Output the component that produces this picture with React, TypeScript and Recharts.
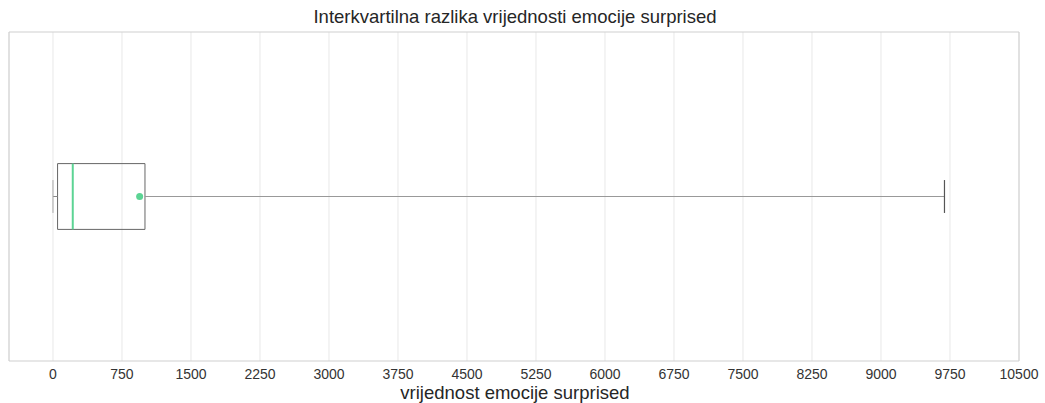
import { ComposedChart, XAxis, YAxis, CartesianGrid, ReferenceArea, ReferenceLine, Scatter } from 'recharts'

const ticks = [0, 750, 1500, 2250, 3000, 3750, 4500, 5250, 6000, 6750, 7500, 8250, 9000, 9750, 10500]
const whiskerLow = 0
const q1 = 50
const median = 215
const q3 = 1000
const whiskerHigh = 9690
const meanPoint = [{ x: 942, y: 0.5 }]

const boxColor = '#666666'
const green = '#5cd494'

export default function App() {
  return (
    <div style={{ position: 'relative', width: 1045, height: 403, background: '#fff', fontFamily: 'Liberation Sans, Arial, sans-serif' }}>
      <style>{'body{margin:0}'}</style>
      <div style={{ position: 'absolute', top: 6, left: 0, width: 1030, textAlign: 'center', fontSize: 18.5, lineHeight: '22px', color: '#262626' }}>
        Interkvartilna razlika vrijednosti emocije surprised
      </div>
      <ComposedChart width={1045} height={403} margin={{ top: 32, right: 26, bottom: 0, left: 9 }}>
        <CartesianGrid horizontal={false} stroke="#e8e8e8" />
        <XAxis
          type="number"
          dataKey="x"
          domain={[-478, 10500]}
          ticks={ticks}
          allowDataOverflow
          axisLine={false}
          tickLine={false}
          height={42}
          tick={{ fontSize: 14, fill: '#333' }}
          tickMargin={2}
        />
        <YAxis type="number" dataKey="y" domain={[0, 1]} hide />
        <ReferenceArea x1={-478} x2={10500} y1={0} y2={1} fill="none" stroke="#cfcfcf" strokeWidth={1} />
        <ReferenceLine segment={[{ x: whiskerLow, y: 0.5 }, { x: q1, y: 0.5 }]} stroke="#888" strokeWidth={1} />
        <ReferenceLine segment={[{ x: q3, y: 0.5 }, { x: whiskerHigh, y: 0.5 }]} stroke="#999" strokeWidth={1} />
        <ReferenceLine segment={[{ x: whiskerLow, y: 0.45 }, { x: whiskerLow, y: 0.55 }]} stroke="#aaa" strokeWidth={1} />
        <ReferenceLine segment={[{ x: whiskerHigh, y: 0.45 }, { x: whiskerHigh, y: 0.55 }]} stroke="#555" strokeWidth={1.2} />
        <ReferenceArea x1={q1} x2={q3} y1={0.4} y2={0.6} fill="none" stroke={boxColor} strokeWidth={1} />
        <ReferenceLine segment={[{ x: median, y: 0.4 }, { x: median, y: 0.6 }]} stroke={green} strokeWidth={2} />
        <Scatter data={meanPoint} fill={green} isAnimationActive={false} shape={(p: any) => <circle cx={p.cx} cy={p.cy} r={3.5} fill={green} />} />
      </ComposedChart>
      <div style={{ position: 'absolute', top: 382, left: 0, width: 1030, textAlign: 'center', fontSize: 18.5, lineHeight: '22px', color: '#262626' }}>
        vrijednost emocije surprised
      </div>
    </div>
  )
}
